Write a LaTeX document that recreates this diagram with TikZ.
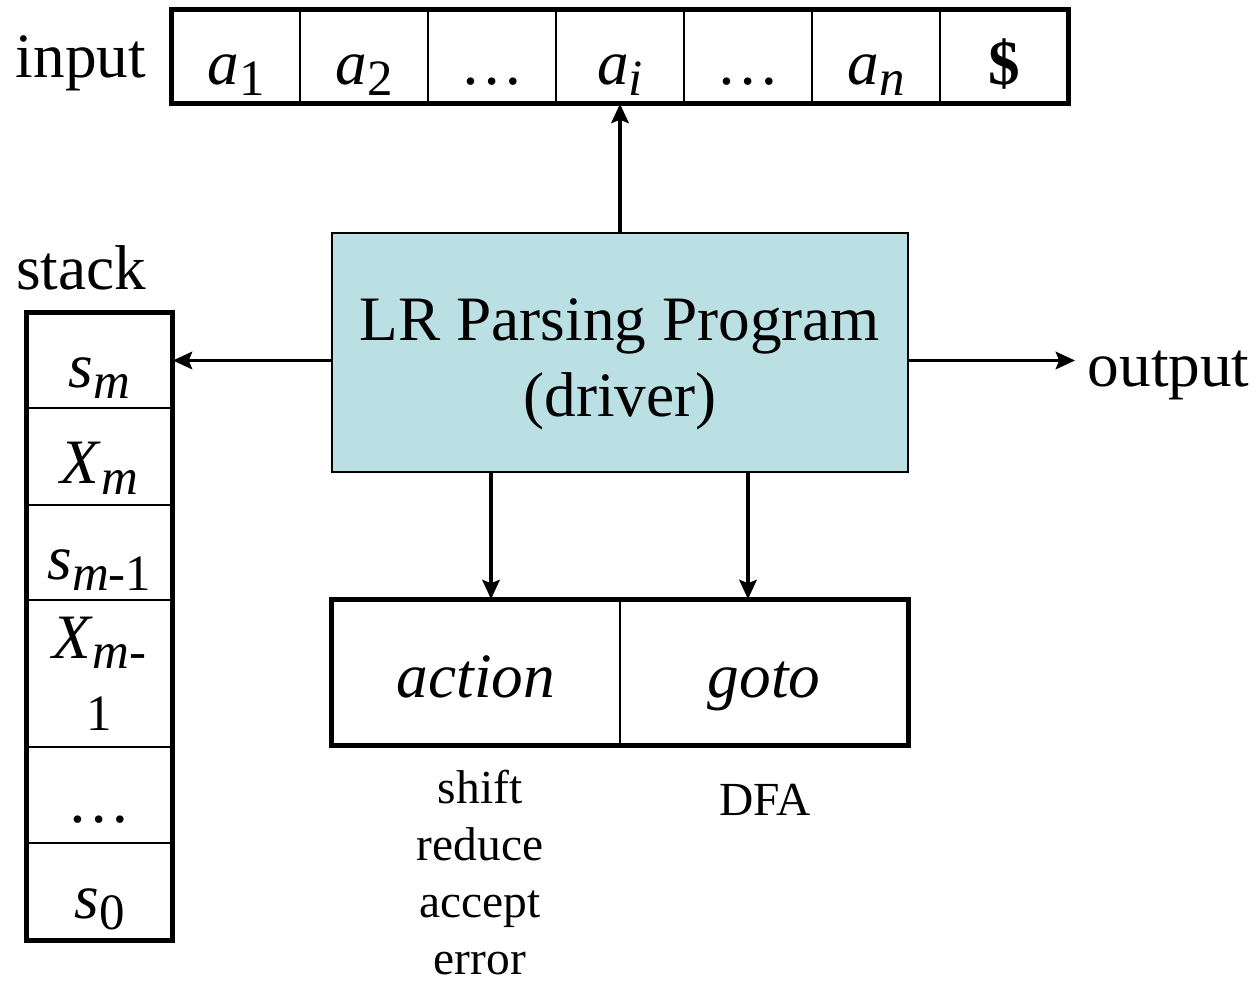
\documentclass[tikz,border=0pt]{standalone}
\usepackage{fontspec}
\setmainfont{Liberation Serif}
\usetikzlibrary{arrows.meta}

\newcommand{\tsym}[2]{\textit{#1}\raisebox{-6pt}{\fontsize{29}{29}\selectfont #2}}
\definecolor{drvfill}{HTML}{BBE0E3}

\tikzset{
  cell/.style={draw, line width=1pt, inner sep=0pt, minimum width=2.56cm, minimum height=1.86cm,
    text height=1.2cm, text depth=0.06cm},
  scell/.style={draw, line width=1pt, inner sep=0pt, minimum width=2.9cm, align=center,
    text height=1.16cm, text depth=0.06cm},
  tcell/.style={draw, line width=1pt, inner sep=0pt, minimum width=5.76cm, minimum height=2.9cm,
    text height=1.1cm, text depth=0.1cm},
  frame/.style={line width=2.8pt},
  flow/.style={line width=1.8pt, -{Stealth[length=11pt,width=10pt,inset=2pt]}},
}

\begin{document}
\begin{tikzpicture}[font=\fontsize{36}{43}\selectfont]
    \useasboundingbox (0,0) rectangle (25.2,19.6);

    % Input tape
    \node (inlbl) at (1.62,18.34) {input};
    \node[cell] (t1) at (4.72,18.47) {\tsym{a}{1}};
    \node[cell] (t2) at (7.28,18.47) {\tsym{a}{2}};
    \node[cell] (t3) at (9.84,18.47) {\dots};
    \node[cell] (ti) at (12.4,18.47) {\tsym{a}{\textit{i}}};
    \node[cell] (t5) at (14.96,18.47) {\dots};
    \node[cell] (t6) at (17.52,18.47) {\tsym{a}{\textit{n}}};
    \node[cell] (t7) at (20.08,18.47) {\textbf{\$}};
    \draw[frame] (t1.north west) rectangle (t7.south east);

    % Stack
    \node (stlbl) at (1.62,14.24) {stack};
    \node[scell, minimum height=1.9cm]  (sm)  at (1.99,12.39) {\tsym{s}{\textit{m}}};
    \node[scell, minimum height=1.94cm] (xm)  at (1.99,10.47) {\tsym{X}{\textit{m}}};
    \node[scell, minimum height=1.9cm]  (sm1) at (1.99,8.55)  {\tsym{s}{\textit{m}-1}};
    \node[draw, line width=1pt, inner sep=0pt, minimum width=2.9cm, minimum height=2.94cm, align=center]
        (xm1) at (1.99,6.13) {\tsym{X}{\textit{m}-}\\[-2pt]{\fontsize{29}{29}\selectfont 1}};
    \node[scell, minimum height=1.92cm] (sdt) at (1.99,3.70)  {\dots};
    \node[scell, minimum height=1.94cm] (s0)  at (1.99,1.77)  {\tsym{s}{0}};
    \draw[frame] (sm.north west) rectangle (s0.south east);

    % Driver
    \node[draw, fill=drvfill, line width=1pt, minimum width=11.52cm, minimum height=4.78cm]
        (driver) at (12.4,12.55) {};
    \node[align=center] (drvtxt) at (12.4,12.31) {LR Parsing Program\\(driver)};
    \node[anchor=west, inner sep=0.25cm] (out) at (21.5,12.1) {output};

    % Parsing table
    \node[tcell] (act) at (9.52,6.15) {\textit{action}};
    \node[tcell] (gto) at (15.28,6.15) {\textit{goto}};
    \draw[frame] (act.north west) rectangle (gto.south east);

    \node[anchor=north, inner sep=0pt, align=center, font=\fontsize{27}{32.4}\selectfont]
        (acts) at (9.6,4.2) {shift\\reduce\\accept\\error};
    \node[font=\fontsize{27}{32.4}\selectfont] (dfa) at (15.3,3.6) {DFA};

    % Arrows
    \draw[flow] (driver.north) -- (ti.south);
    \draw[flow] (driver.west |- sm.east) -- (sm.east);
    \draw[flow] (driver.east |- sm.east) -- (out.west |- sm.east);
    \draw[flow] ([xshift=0.3cm]act.north |- driver.south) -- ([xshift=0.3cm]act.north);
    \draw[flow] ([xshift=-0.32cm]gto.north |- driver.south) -- ([xshift=-0.32cm]gto.north);

\end{tikzpicture}
\end{document}
